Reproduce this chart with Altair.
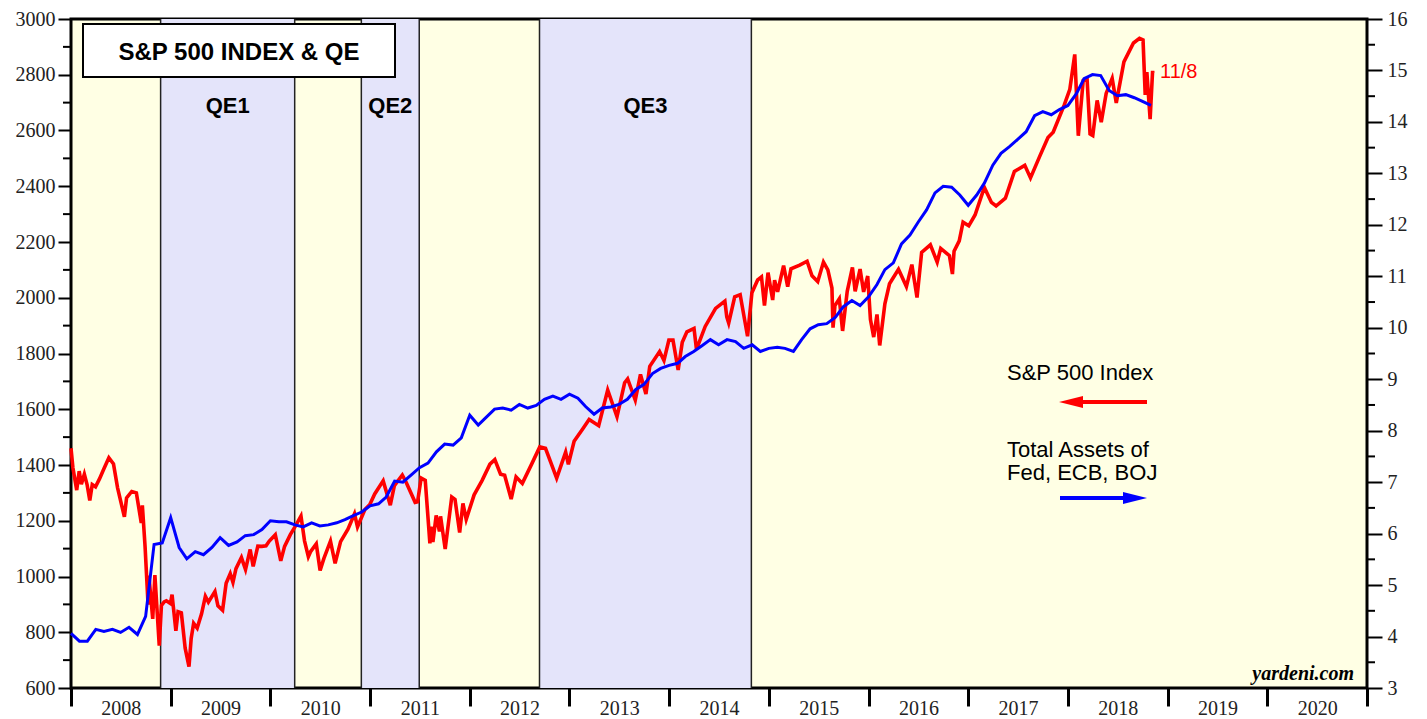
import altair as alt
import pandas as pd

# ---------------- data ----------------
sp_dates = [
    "2008-01-01", "2008-01-08", "2008-01-22", "2008-01-31", "2008-02-08", "2008-02-19", "2008-02-29",
    "2008-03-10", "2008-03-19", "2008-03-31", "2008-04-15", "2008-04-30", "2008-05-19", "2008-06-05",
    "2008-06-20", "2008-07-15", "2008-07-23", "2008-08-11", "2008-08-28", "2008-09-15", "2008-09-19",
    "2008-09-29", "2008-10-10", "2008-10-13", "2008-10-27", "2008-11-04", "2008-11-20", "2008-11-28",
    "2008-12-08", "2008-12-16", "2008-12-31",
    "2009-01-06", "2009-01-20", "2009-01-28", "2009-02-09", "2009-02-23", "2009-03-09", "2009-03-17",
    "2009-03-26", "2009-04-08", "2009-04-24", "2009-05-08", "2009-05-19", "2009-06-12", "2009-06-23",
    "2009-07-10", "2009-07-23", "2009-08-07", "2009-08-17", "2009-08-28", "2009-09-17", "2009-10-02",
    "2009-10-19", "2009-10-30", "2009-11-16", "2009-12-01", "2009-12-16", "2009-12-28",
    "2010-01-19", "2010-02-08", "2010-02-22", "2010-03-15", "2010-04-01", "2010-04-23", "2010-05-06",
    "2010-05-20", "2010-05-28", "2010-06-18", "2010-07-02", "2010-07-16", "2010-08-09", "2010-08-26",
    "2010-09-15", "2010-10-12", "2010-11-05", "2010-11-16", "2010-12-13", "2010-12-31",
    "2011-01-18", "2011-02-18", "2011-03-16", "2011-03-31", "2011-04-29", "2011-05-13", "2011-06-15",
    "2011-06-24", "2011-07-07", "2011-07-22", "2011-08-08", "2011-08-12", "2011-08-19", "2011-08-31",
    "2011-09-12", "2011-09-16", "2011-10-03", "2011-10-27", "2011-11-08", "2011-11-25", "2011-12-07",
    "2011-12-19",
    "2012-01-17", "2012-02-15", "2012-03-15", "2012-04-02", "2012-04-23", "2012-05-08", "2012-06-01",
    "2012-06-19", "2012-07-12", "2012-08-16", "2012-09-14", "2012-10-05", "2012-10-23", "2012-11-15",
    "2012-12-18", "2012-12-28",
    "2013-01-18", "2013-02-19", "2013-03-14", "2013-04-18", "2013-05-21", "2013-06-24", "2013-07-22",
    "2013-08-02", "2013-08-30", "2013-09-18", "2013-10-08", "2013-10-22", "2013-11-27", "2013-12-13",
    "2013-12-31",
    "2014-01-15", "2014-02-03", "2014-02-18", "2014-03-07", "2014-04-02", "2014-04-11", "2014-05-13",
    "2014-06-20", "2014-07-24", "2014-07-31", "2014-08-07", "2014-08-29", "2014-09-18", "2014-10-15",
    "2014-10-31", "2014-11-21", "2014-12-05", "2014-12-16", "2014-12-29",
    "2015-01-15", "2015-01-22", "2015-02-02", "2015-02-24", "2015-03-11", "2015-03-23", "2015-04-24",
    "2015-05-21", "2015-06-08", "2015-06-29", "2015-07-20", "2015-08-05", "2015-08-20", "2015-08-24",
    "2015-08-31", "2015-09-16", "2015-09-28", "2015-10-15", "2015-11-03", "2015-11-13", "2015-12-01",
    "2015-12-14", "2015-12-29",
    "2016-01-08", "2016-01-20", "2016-02-01", "2016-02-11", "2016-03-01", "2016-03-18", "2016-04-20",
    "2016-05-19", "2016-06-08", "2016-06-27", "2016-07-14", "2016-08-15", "2016-09-09", "2016-09-22",
    "2016-10-24", "2016-11-04", "2016-11-10", "2016-11-29", "2016-12-13",
    "2017-01-03", "2017-01-26", "2017-03-01", "2017-03-27", "2017-04-13", "2017-05-17", "2017-06-19",
    "2017-07-27", "2017-08-17", "2017-09-20", "2017-10-20", "2017-11-08", "2017-12-18",
    "2018-01-08", "2018-01-26", "2018-02-08", "2018-02-26", "2018-03-12", "2018-03-23", "2018-04-02",
    "2018-04-18", "2018-05-03", "2018-05-21", "2018-06-12", "2018-06-27", "2018-07-25", "2018-08-29",
    "2018-09-20", "2018-10-03", "2018-10-11", "2018-10-17", "2018-10-29", "2018-11-07", "2018-11-08",
]
sp_values = [
    1460, 1390, 1310, 1378, 1331, 1367, 1330,
    1273, 1330, 1322, 1351, 1385, 1426, 1404,
    1318, 1214, 1282, 1305, 1300, 1192, 1255,
    1106, 899, 1003, 848, 1005, 752, 896,
    909, 913, 903,
    935, 805, 874, 870, 743, 677, 778,
    832, 815, 866, 929, 908, 946, 895,
    879, 976, 1010, 979, 1028, 1068, 1025,
    1097, 1036, 1109, 1108, 1110, 1127,
    1150, 1056, 1108, 1150, 1178, 1217, 1128,
    1071, 1089, 1117, 1022, 1065, 1127, 1047,
    1125, 1170, 1225, 1178, 1240, 1258,
    1296, 1343, 1256, 1326, 1364, 1338, 1266,
    1268, 1353, 1345, 1119, 1179, 1124, 1219,
    1162, 1216, 1099, 1285, 1276, 1158, 1262,
    1205,
    1293, 1344, 1403, 1419, 1367, 1363, 1278,
    1357, 1334, 1405, 1465, 1460, 1413, 1353,
    1446, 1402,
    1485, 1530, 1563, 1541, 1669, 1573, 1695,
    1709, 1633, 1725, 1655, 1754, 1807, 1775,
    1848,
    1848, 1741, 1840, 1878, 1890, 1815, 1897,
    1962, 1988, 1931, 1909, 2003, 2011, 1862,
    2018, 2064, 2075, 1972, 2090,
    1992, 2063, 2021, 2115, 2040, 2104, 2117,
    2131, 2079, 2058, 2128, 2100, 2035, 1893,
    1972, 1996, 1881, 2023, 2109, 2023, 2103,
    2021, 2078,
    1922, 1859, 1940, 1829, 1978, 2050, 2102,
    2040, 2119, 2001, 2163, 2190, 2128, 2177,
    2151, 2085, 2167, 2204, 2271,
    2258, 2297, 2396, 2342, 2329, 2357, 2453,
    2475, 2430, 2508, 2575, 2594, 2690,
    2748, 2873, 2581, 2780, 2787, 2588, 2582,
    2708, 2630, 2733, 2787, 2699, 2846, 2914,
    2931, 2925, 2728, 2809, 2641, 2814, 2806,
]

# Total assets of Fed, ECB, BOJ (trillion $), monthly from Jan 2008
assets_first_month = "2008-01-01"
assets_values = [
    4.06, 3.91, 3.91, 4.14, 4.10, 4.14, 4.08, 4.18, 4.04, 4.39,
    5.79, 5.82, 6.31, 5.73, 5.51, 5.65, 5.59, 5.73, 5.92, 5.77,
    5.84, 5.96, 5.98, 6.08, 6.25, 6.23, 6.23, 6.17, 6.13, 6.21,
    6.15, 6.17, 6.21, 6.27, 6.35, 6.42, 6.54, 6.58, 6.71, 7.02,
    7.00, 7.14, 7.28, 7.37, 7.59, 7.74, 7.72, 7.86, 8.30, 8.11,
    8.26, 8.42, 8.44, 8.40, 8.51, 8.44, 8.49, 8.61, 8.67, 8.61,
    8.71, 8.63, 8.47, 8.32, 8.44, 8.46, 8.51, 8.61, 8.80, 8.90,
    9.11, 9.21, 9.27, 9.31, 9.44, 9.54, 9.65, 9.77, 9.67, 9.77,
    9.73, 9.60, 9.67, 9.54, 9.60, 9.62, 9.60, 9.54, 9.77, 9.98,
    10.06, 10.08, 10.20, 10.41, 10.53, 10.43, 10.60, 10.84, 11.13, 11.26,
    11.63, 11.80, 12.05, 12.29, 12.62, 12.75, 12.73, 12.58, 12.38, 12.58,
    12.81, 13.16, 13.39, 13.52, 13.66, 13.81, 14.12, 14.20, 14.14, 14.24,
    14.32, 14.55, 14.84, 14.92, 14.90, 14.61, 14.51, 14.53, 14.47, 14.40,
    14.32,
]

qe_names = ["QE1", "QE2", "QE3"]
qe_start = ["2008-11-25", "2010-11-30", "2012-09-13"]
qe_end = ["2010-03-31", "2011-06-30", "2014-10-29"]

year_ticks = list(range(2008, 2022))
left_major = list(range(600, 3001, 200))
left_minor = list(range(700, 3000, 200))
right_major = list(range(3, 17))
right_minor = [v + 0.5 for v in range(3, 16)]


def dec_year(dates):
    d = pd.to_datetime(pd.Series(dates))
    days = d.dt.is_leap_year.map({True: 366, False: 365})
    return (d.dt.year + (d.dt.dayofyear - 1) / days).to_numpy()


sp_df = pd.DataFrame({"t": dec_year(sp_dates), "sp": sp_values})
months = pd.date_range(assets_first_month, periods=len(assets_values), freq="MS")
as_df = pd.DataFrame({"t": dec_year(months), "assets": assets_values})
qe_df = pd.DataFrame({"name": qe_names, "t0": dec_year(qe_start), "t1": dec_year(qe_end)})
qe_df["mid"] = (qe_df["t0"] + qe_df["t1"]) / 2
bounds_df = pd.DataFrame({"t": list(qe_df["t0"]) + list(qe_df["t1"])})

W, H = 1296, 669
DY = -2  # annotation shift so they keep their page position
SERIF = "Liberation Serif"
SANS = "Liberation Sans"

x_scale = alt.Scale(domain=[2008, 2021], nice=False, zero=False)
left_scale = alt.Scale(domain=[600, 3000], nice=False, zero=False)
right_scale = alt.Scale(domain=[3, 16], nice=False, zero=False)

x_axis = alt.Axis(
    values=year_ticks,
    labelExpr="datum.value <= 2020 ? '' + datum.value : ''",
    labelOffset=49.85, tickSize=18, tickWidth=3, tickColor="black",
    domain=False, grid=False, labelFont=SERIF, labelFontSize=20,
    labelColor="#222", labelPadding=-8, title=None,
    labelFlush=False, labelOverlap=False, labelBound=False,
)


def xq(field):
    return alt.X(field, scale=x_scale, axis=x_axis)


# shaded QE periods
qe_rects = alt.Chart(qe_df).mark_rect(color="#e4e4fa").encode(
    x=xq("t0:Q"), x2="t1:Q",
    y=alt.value(0), y2=alt.value(H),
)
bounds = alt.Chart(bounds_df).mark_rule(color="#222", strokeWidth=1.5).encode(
    x=xq("t:Q"), y=alt.value(0), y2=alt.value(H),
)

red = alt.Chart(sp_df).mark_line(color="#ff0000", strokeWidth=3.6).encode(
    x=xq("t:Q"),
    y=alt.Y("sp:Q", scale=left_scale, axis=alt.Axis(
        orient="left", values=left_major, tickSize=13, tickWidth=2, tickColor="black",
        domain=False, grid=False, labelFont=SERIF, labelFontSize=20, labelColor="#222",
        labelPadding=3, title=None, format="d")),
)
blue = alt.Chart(as_df).mark_line(color="#0000ff", strokeWidth=3).encode(
    x=xq("t:Q"),
    y=alt.Y("assets:Q", scale=right_scale, axis=alt.Axis(
        orient="right", values=right_major, tickSize=15, tickWidth=2, tickColor="black",
        domain=False, grid=False, labelFont=SERIF, labelFontSize=20, labelColor="#222",
        labelPadding=5, title=None, format="d")),
)

lminor = alt.Chart(pd.DataFrame({"v": left_minor})).mark_rule(color="black", strokeWidth=2).encode(
    x=alt.value(-8), x2=alt.value(0), y=alt.Y("v:Q", scale=left_scale, axis=None),
)
rminor = alt.Chart(pd.DataFrame({"v": right_minor})).mark_rule(color="black", strokeWidth=2).encode(
    x=alt.value(W), x2=alt.value(W + 8), y=alt.Y("v:Q", scale=right_scale, axis=None),
)

one = pd.DataFrame({"k": [0]})

title_box = alt.Chart(one).mark_rect(fill="white", stroke="black", strokeWidth=2).encode(
    x=alt.value(12), x2=alt.value(324), y=alt.value(7 + DY), y2=alt.value(60 + DY),
)
title_txt = alt.Chart(one).mark_text(
    text="S&P 500 INDEX & QE", font=SANS, fontSize=24, fontWeight="bold",
    align="center", baseline="alphabetic", color="black",
).encode(x=alt.value(168), y=alt.value(43 + DY))

qe_txt = alt.Chart(qe_df).mark_text(
    font=SANS, fontSize=22, fontWeight="bold", align="center", baseline="alphabetic", color="black",
).encode(x=xq("mid:Q"), y=alt.value(96 + DY), text="name:N")

leg1 = alt.Chart(one).mark_text(
    text="S&P 500 Index", font=SANS, fontSize=22, align="left", baseline="alphabetic", color="black",
).encode(x=alt.value(936), y=alt.value(363 + DY))
leg2 = alt.Chart(one).mark_text(
    text=["Total Assets of", "Fed, ECB, BOJ"], lineHeight=23, font=SANS, fontSize=22,
    align="left", baseline="alphabetic", color="black",
).encode(x=alt.value(936), y=alt.value(440 + DY))

red_shaft = alt.Chart(one).mark_rule(color="#ff0000", strokeWidth=4).encode(
    x=alt.value(998), x2=alt.value(1076), y=alt.value(385 + DY),
)
red_head = alt.Chart(one).mark_point(
    shape="M-1,0L1,-0.5L1,0.5Z", filled=True, size=576, color="#ff0000", opacity=1,
).encode(x=alt.value(1000), y=alt.value(385 + DY))
blue_shaft = alt.Chart(one).mark_rule(color="#0000ff", strokeWidth=4).encode(
    x=alt.value(989), x2=alt.value(1066), y=alt.value(481 + DY),
)
blue_head = alt.Chart(one).mark_point(
    shape="M1,0L-1,-0.5L-1,0.5Z", filled=True, size=576, color="#0000ff", opacity=1,
).encode(x=alt.value(1064), y=alt.value(481 + DY))

date_lbl = alt.Chart(one).mark_text(
    text="11/8", font=SANS, fontSize=20, align="left", baseline="alphabetic", color="#ff0000",
).encode(x=alt.value(1089), y=alt.value(61 + DY))

src = alt.Chart(one).mark_text(
    text="yardeni.com", font=SERIF, fontSize=20, fontWeight="bold", fontStyle="italic",
    align="right", baseline="alphabetic", color="black",
).encode(x=alt.value(1283), y=alt.value(663 + DY))

chart = alt.layer(
    qe_rects, bounds, red, blue, lminor, rminor,
    title_box, title_txt, qe_txt, leg1, leg2,
    red_shaft, red_head, blue_shaft, blue_head, date_lbl, src,
).resolve_scale(y="independent").properties(
    width=W, height=H,
    autosize=alt.AutoSizeParams(type="none"),
    padding={"left": 63, "top": 11, "right": 52, "bottom": 31},
    background="white",
).configure_view(fill="#ffffe4", stroke="black", strokeWidth=3)

chart.save("out.html", embed_options={"renderer": "svg", "actions": False})
